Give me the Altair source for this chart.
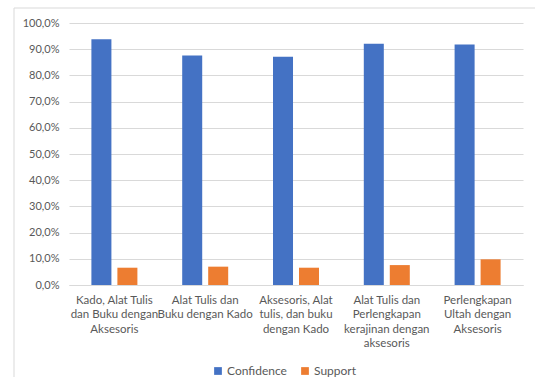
import altair as alt
import pandas as pd

categories = [
    "Kado, Alat Tulis\ndan Buku dengan\nAksesoris",
    "Alat Tulis dan\nBuku dengan Kado",
    "Aksesoris, Alat\ntulis, dan buku\ndengan Kado",
    "Alat Tulis dan\nPerlengkapan\nkerajinan dengan\naksesoris",
    "Perlengkapan\nUltah dengan\nAksesoris",
]
confidence = [0.938, 0.876, 0.871, 0.921, 0.918]
support = [0.066, 0.070, 0.066, 0.076, 0.098]
series = ["Confidence", "Support"]
colors = ["#4472C4", "#ED7D31"]

rows = []
for c, v in zip(categories, confidence):
    rows.append({"cat": c, "series": "Confidence", "value": v})
for c, v in zip(categories, support):
    rows.append({"cat": c, "series": "Support", "value": v})
df = pd.DataFrame(rows)

font = "Lato"
grey = "#595959"

bars = alt.Chart(df).mark_bar().encode(
    x=alt.X("cat:N", sort=categories, title=None,
            scale=alt.Scale(paddingInner=0.4934, paddingOuter=0.2467),
            axis=alt.Axis(labelAngle=0, labelExpr="split(datum.label, '\\n')",
                          labelLineHeight=14.5, labelPadding=9, ticks=False,
                          domainColor="#d9d9d9", labelColor=grey, labelFontSize=11.5,
                          labelFont=font, labelLimit=200)),
    xOffset=alt.XOffset("series:N", sort=series,
                        scale=alt.Scale(paddingInner=0.23, paddingOuter=0)),
    y=alt.Y("value:Q", title=None,
            scale=alt.Scale(domain=[0, 1], nice=False),
            axis=alt.Axis(values=[i / 10 for i in range(11)],
                          labelExpr="replace(format(datum.value, '.1%'), '.', ',')",
                          ticks=False, domain=False, gridColor="#d9d9d9",
                          labelColor=grey, labelFontSize=11, labelFont=font,
                          labelPadding=10)),
    color=alt.Color("series:N", sort=series, title=None,
                    scale=alt.Scale(domain=series, range=colors),
                    legend=alt.Legend(orient="none", direction="horizontal",
                                      legendX=143, legendY=342,
                                      symbolType="square", symbolSize=60,
                                      symbolStrokeWidth=0,
                                      labelFont=font, labelFontSize=12,
                                      labelColor=grey, columnPadding=12,
                                      labelOffset=3)),
)

border = alt.Chart(pd.DataFrame({"a": [0]})).mark_rect(
    fill=None, stroke="#d9d9d9", strokeWidth=1
).encode(
    x=alt.value(-55), x2=alt.value(520), y=alt.value(-15), y2=alt.value(420)
)

chart = alt.layer(border, bars).properties(
    width=454, height=262,
    padding={"left": 69, "top": 23, "right": 12, "bottom": 92},
    autosize=alt.AutoSizeParams(type="none"),
    background="white",
).configure_view(stroke=None)

chart.save("out.html", embed_options={"renderer": "svg", "actions": False})
